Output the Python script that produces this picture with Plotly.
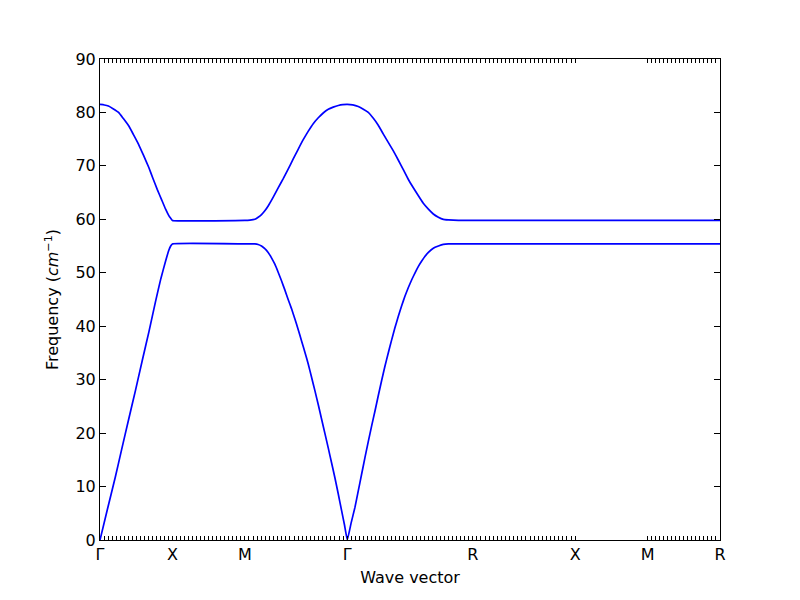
import numpy as np
import plotly.graph_objects as go

# High-symmetry points (path distance) and labels
sym_labels = ["Γ", "X", "M", "Γ", "R", "X", "M", "R"]
sym_pos = [0.0, 0.5, 1.0, 1.7071, 2.5731, 3.2802, 3.7802, 4.2802]

# Upper (optical) band
opt_q = [0.0, 0.03, 0.058, 0.09, 0.128, 0.16, 0.198, 0.23, 0.267, 0.30, 0.337, 0.365, 0.395,
         0.425, 0.453, 0.475, 0.488, 0.5,
         1.0, 1.035, 1.069, 1.092, 1.115, 1.138, 1.161, 1.195, 1.230, 1.265, 1.299, 1.334, 1.368,
         1.403, 1.438, 1.472, 1.507, 1.541, 1.576, 1.610, 1.645, 1.676, 1.7071,
         1.745, 1.783, 1.818, 1.852, 1.887, 1.921, 1.955, 1.990, 2.025, 2.059, 2.094, 2.128,
         2.163, 2.198, 2.232, 2.267, 2.301, 2.336, 2.370, 2.405, 2.474, 2.5731,
         3.2802, 3.7802, 4.2802]
opt_f = [81.5, 81.4, 81.2, 80.7, 80.0, 78.9, 77.5, 75.9, 74.0, 72.0, 69.7, 67.7, 65.6,
         63.7, 61.9, 60.7, 60.2, 59.8,
         59.8, 59.85, 60.0, 60.4, 60.9, 61.6, 62.5, 64.1, 65.9, 67.6, 69.4, 71.3, 73.1,
         74.9, 76.5, 77.9, 79.0, 79.9, 80.6, 81.0, 81.3, 81.45, 81.5,
         81.4, 81.1, 80.6, 80.0, 78.9, 77.6, 76.0, 74.4, 72.8, 71.1, 69.3, 67.5,
         65.9, 64.4, 63.0, 61.9, 61.0, 60.4, 60.0, 59.9, 59.8, 59.8,
         59.8, 59.8, 59.8]

# Lower (acoustic) band
ac_q = [0.0, 0.05, 0.105, 0.15, 0.198, 0.245, 0.291, 0.338, 0.384, 0.42, 0.453, 0.475, 0.488, 0.5,
        1.0, 1.04, 1.069, 1.092, 1.115, 1.138, 1.161, 1.184, 1.207, 1.230, 1.253, 1.276, 1.299,
        1.322, 1.345, 1.368, 1.392, 1.415, 1.438, 1.461, 1.484, 1.507, 1.530, 1.553,
        1.576, 1.599, 1.622, 1.645, 1.668, 1.688, 1.7071,
        1.733, 1.760, 1.783, 1.806, 1.829, 1.852, 1.875, 1.898, 1.921, 1.944, 1.967, 1.990,
        2.013, 2.036, 2.059, 2.082, 2.105, 2.128, 2.152, 2.175, 2.198, 2.221, 2.244, 2.267,
        2.301, 2.336, 2.370, 2.405, 2.5731,
        3.2802, 3.7802, 4.2802]
ac_f = [0.0, 5.6, 11.7, 17.0, 22.6, 28.0, 33.5, 39.0, 44.7, 48.9, 52.2, 54.2, 55.0, 55.4,
        55.4, 55.4, 55.4, 55.3, 55.0, 54.5, 53.8, 52.8, 51.6, 50.1, 48.5, 46.8, 45.0,
        43.3, 41.4, 39.4, 37.2, 35.1, 32.9, 30.4, 27.9, 25.3, 22.6, 19.9,
        17.2, 14.4, 11.6, 8.6, 5.5, 2.8, 0.0,
        3.1, 6.1, 9.2, 12.3, 15.4, 18.4, 21.3, 24.1, 27.0, 29.8, 32.5, 35.0,
        37.4, 39.7, 41.8, 43.8, 45.6, 47.2, 48.7, 50.0, 51.2, 52.2, 53.1, 53.8,
        54.6, 55.0, 55.3, 55.4, 55.4,
        55.4, 55.4, 55.4]

y_ticks = [0, 10, 20, 30, 40, 50, 60, 70, 80, 90]

# q-point ticks along the path (segments with sampled points)
seg_pts = [(0, 1, 18), (1, 2, 18), (2, 3, 25), (3, 4, 31), (4, 5, 25), (6, 7, 18)]
minor_vals = []
for a, b, n in seg_pts:
    minor_vals.extend(np.linspace(sym_pos[a], sym_pos[b], n + 1).tolist())

fig = go.Figure()
for q, f in [(opt_q, opt_f), (ac_q, ac_f)]:
    fig.add_trace(go.Scatter(x=q, y=f, mode="lines",
                             line=dict(color="#0000ff", width=1.7, shape="spline", smoothing=0.35),
                             showlegend=False, hoverinfo="skip"))

font = dict(family="DejaVu Sans", size=16, color="black")
fig.update_layout(
    width=800, height=600,
    margin=dict(l=92, r=88, t=51, b=68),
    paper_bgcolor="white", plot_bgcolor="white",
    font=font,
    xaxis=dict(range=[sym_pos[0], sym_pos[-1]], tickmode="array", tickvals=sym_pos, ticktext=sym_labels,
               ticks="inside", ticklen=4, tickcolor="black", showline=True, linecolor="black", linewidth=1,
               mirror="ticks", showgrid=False, zeroline=False,
               minor=dict(tickmode="array", tickvals=minor_vals, ticks="inside", ticklen=4, tickcolor="black", showgrid=False),
               title=dict(text="Wave vector", standoff=8, font=font), tickfont=font),
    yaxis=dict(range=[0, 90], tickmode="array", tickvals=y_ticks, ticks="inside", ticklen=6, tickcolor="black",
               showline=True, linecolor="black", linewidth=1, mirror="ticks", showgrid=False, zeroline=False,
               title=dict(text="Frequency (<i>cm</i><sup>−1</sup>)", standoff=12, font=font), tickfont=font),
)
fig.write_html("out.html")
